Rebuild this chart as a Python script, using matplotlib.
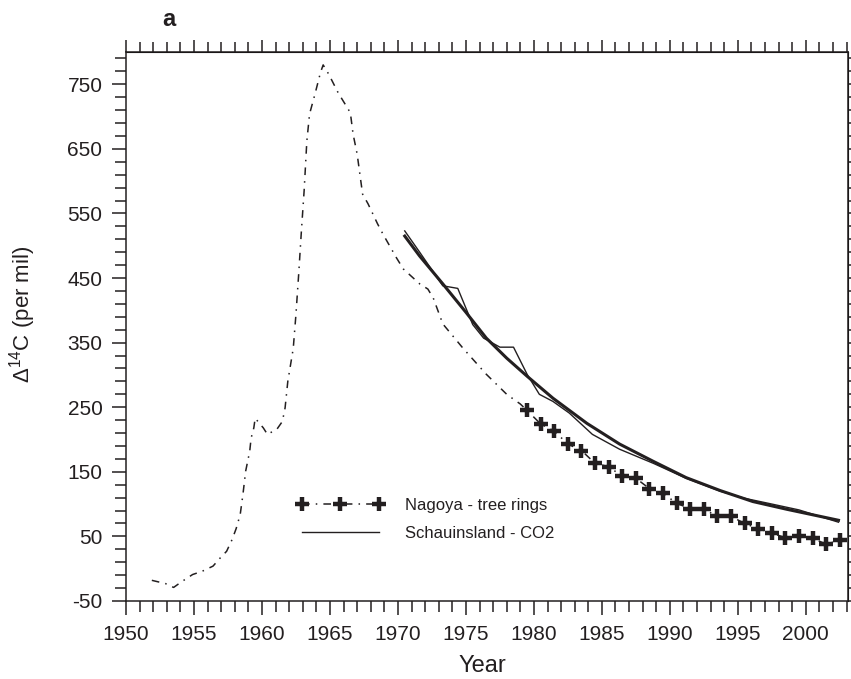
import numpy as np
import matplotlib
matplotlib.use("Agg")
import matplotlib.pyplot as plt
from matplotlib.ticker import FixedLocator, MultipleLocator

plt.rcParams["font.family"] = ["Liberation Sans", "DejaVu Sans"]
plt.rcParams["mathtext.fontset"] = "custom"
plt.rcParams["mathtext.rm"] = "Liberation Sans"
plt.rcParams["mathtext.it"] = "Liberation Sans"
plt.rcParams["axes.unicode_minus"] = False

INK = "#231f20"

# Nagoya tree rings (dash-dot line, crosses from 1979 on)
nagoya_year = [1951.9, 1952.9, 1953.5, 1954.1, 1954.9, 1955.6, 1956.4, 1956.9,
               1957.4, 1957.8, 1958.1, 1958.4, 1958.6, 1958.8, 1959.1, 1959.2,
               1959.4, 1959.5, 1960.1, 1960.4, 1961.1, 1961.5, 1961.7, 1961.9,
               1962.3, 1962.5, 1962.7, 1962.9, 1963.1, 1963.3, 1963.5, 1963.9,
               1964.3, 1964.5, 1964.9, 1965.6, 1966.5, 1966.7, 1967.0, 1967.2,
               1967.4, 1967.8, 1968.5, 1968.9, 1969.9, 1970.4, 1971.6, 1972.2,
               1972.6, 1973.3, 1974.8, 1976.5, 1978.0, 1979.0,
               1979.5, 1980.5, 1981.5, 1982.5, 1983.5, 1984.5, 1985.5, 1986.5,
               1987.5, 1988.5, 1989.5, 1990.5, 1991.5, 1992.5, 1993.5, 1994.5,
               1995.5, 1996.5, 1997.5, 1998.5, 1999.5, 2000.5, 2001.5, 2002.5]
nagoya_d14c = [-18, -23, -29, -20, -9, -4, 4, 16,
               27, 45, 62, 84, 115, 151, 182, 202,
               218, 233, 218, 208, 216, 228, 249, 290,
               341, 394, 456, 523, 585, 662, 704, 735,
               768, 780, 766, 737, 706, 673, 642, 611,
               580, 565, 534, 518, 481, 464, 441, 433,
               419, 379, 341, 301, 270, 255,
               245, 224, 213, 193, 183, 163, 158, 143,
               140, 124, 117, 101, 93, 92, 81, 81,
               70, 62, 55, 48, 50, 47, 38, 44]
cross_start = 54

# Schauinsland CO2, measured (thin) and smoothed (thick)
co2_year = [1970.5, 1971.6, 1973.3, 1974.4, 1975.5, 1976.3, 1977.5, 1978.5,
            1979.5, 1980.4, 1981.4, 1982.6, 1984.3, 1986.3, 1988.8, 1991.2,
            1993.7, 1995.5, 1997.3, 1999.5, 2002.4]
co2_d14c = [523, 490, 438, 434, 378, 357, 343, 343,
            301, 270, 259, 241, 208, 185, 163, 140,
            120, 109, 101, 91, 72]
fit_year = [1970.5, 1971.6, 1973.3, 1975.0, 1976.5, 1978.0, 1979.5, 1981.4,
            1983.9, 1986.3, 1988.8, 1991.2, 1993.7, 1996.1, 1998.6, 2002.4]
fit_d14c = [515, 484, 441, 397, 357, 326, 298, 264,
            225, 193, 166, 141, 121, 104, 92, 75]

fig = plt.figure(figsize=(8.51, 6.79), dpi=100)
ax = fig.add_axes([126 / 851, 1 - 601 / 679, 722 / 851, 549 / 679])

ax.plot(nagoya_year, nagoya_d14c, color=INK, lw=1.1, linestyle=(0, (5, 4, 1, 4)),
        marker="+", markersize=10, markeredgewidth=3.2, markevery=slice(cross_start, None),
        label="Nagoya - tree rings")
ax.plot(co2_year, co2_d14c, color=INK, lw=1.0, label="Schauinsland - CO2")
ax.plot(fit_year, fit_d14c, color=INK, lw=2.2)

ax.set_xlim(1950, 2003.1)
ax.set_ylim(-50, 800)
ax.set_xticks(np.arange(1950, 2001, 5))
ax.xaxis.set_minor_locator(MultipleLocator(1))
ax.set_yticks(np.arange(-50, 751, 100))
ax.yaxis.set_minor_locator(FixedLocator(np.arange(-50, 800, 20)))

ax.tick_params(which="both", direction="out", width=1.1, color=INK,
               labelsize=15, labelcolor=INK, pad=7, top=False, right=False)
ax.tick_params(which="major", length=10)
ax.tick_params(which="minor", length=8)
for s in ax.spines.values():
    s.set_linewidth(1.1)
    s.set_color(INK)

top = ax.secondary_xaxis("top")
top.set_xticks(np.arange(1950, 2001, 5))
top.xaxis.set_minor_locator(MultipleLocator(1))
top.tick_params(which="both", direction="out", width=1.1, color=INK, labeltop=False)
top.tick_params(which="major", length=8.5)
top.tick_params(which="minor", length=7)

right = ax.secondary_yaxis("right")
right.set_yticks(np.arange(-50, 751, 100))
right.yaxis.set_minor_locator(FixedLocator(np.arange(-50, 800, 20)))
right.tick_params(which="both", direction="out", width=1.1, length=2.5, color=INK,
                  labelright=False)

ax.set_xlabel("Year", fontsize=17, color=INK, va="top")
ax.xaxis.set_label_coords(0.494, -0.099)
ax.set_ylabel(r"Δ$^{14}$C (per mil)", fontsize=16, color=INK)
ax.yaxis.set_label_coords(-0.122, 0.523)

fig.text(162 / 851, 1 - 26 / 679, "a", fontsize=17, fontweight="bold",
         color=INK, va="baseline")

ax.legend(loc="upper left", bbox_to_anchor=(297 / 851, 1 - 498 / 679),
          bbox_transform=fig.transFigure, frameon=False, borderpad=0,
          borderaxespad=0, handlelength=5.2, handletextpad=1.3, numpoints=3,
          fontsize=12, labelspacing=0.8, labelcolor=INK)

fig.savefig("out.png", dpi=100)
